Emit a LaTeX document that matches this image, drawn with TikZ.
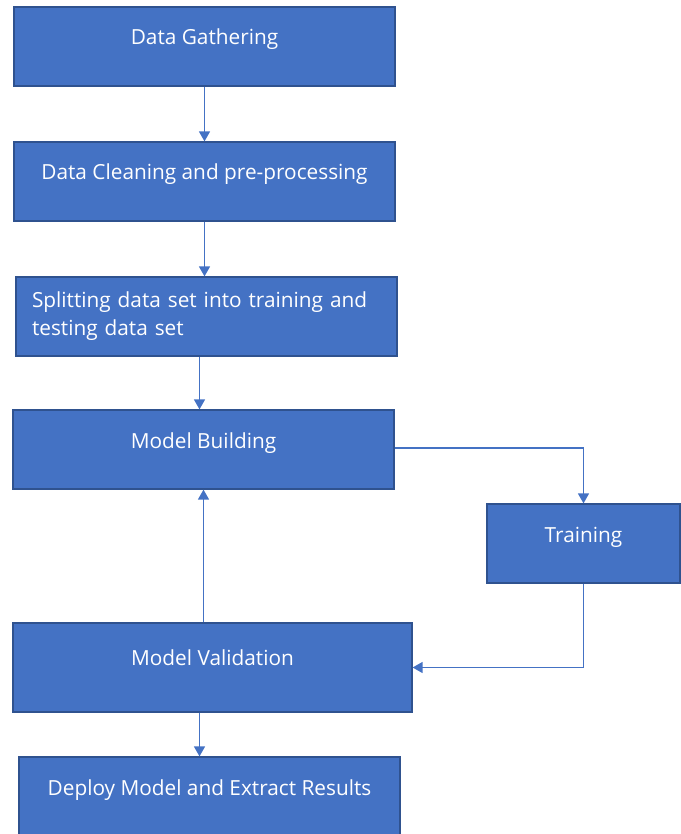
\documentclass[tikz,border=0pt]{standalone}
\usepackage{fontspec}
\setmainfont{Open Sans}
\usetikzlibrary{arrows.meta}
\definecolor{boxfill}{HTML}{4472C4}
\definecolor{boxline}{HTML}{2F528F}
\definecolor{flowline}{HTML}{4472C4}
\begin{document}
\begin{tikzpicture}[x=1pt,y=-1pt,
  every node/.style={font=\fontsize{20.8}{28}\selectfont},
  stepbox/.style={draw=boxline,line width=1.2pt,fill=boxfill,text=white,
    minimum width=381pt,minimum height=79pt,inner sep=0pt,
    text height=15pt,text depth=18pt},
  flow/.style={draw=flowline,line width=1.3pt,-{Triangle[width=11pt,length=10pt]}}]
\useasboundingbox (0,0) rectangle (680,834);
\node[stepbox] (gather) at (204.5,46.5) {Data Gathering};
\node[stepbox] (clean) at (204.5,181.5) {Data Cleaning and pre-processing};
\node[stepbox,align=left,text width=349pt,text height=21pt,text depth=40pt] (split) at (206.5,316.5) {Splitting data set into training and\\testing data set};
\node[stepbox] (build) at (203.5,449.5) {Model Building};
\node[stepbox,minimum width=193pt] (train) at (583.5,543.5) {Training};
\node[stepbox,minimum width=399pt,minimum height=89pt,text depth=20pt] (valid) at (212.5,667.5) {Model Validation};
\node[stepbox] (deploy) at (209.5,796.5) {Deploy Model and Extract Results};
\draw[flow] (gather.south) -- (clean.north);
\draw[flow] (clean.south) -- (clean.south |- split.north);
\draw[flow] ([xshift=-7pt]split.south) -- ([xshift=-7pt]split.south |- build.north);
\draw[flow] ([yshift=1.5pt]build.east) -| (train.north);
\draw[flow] (train.south) |- (valid.east);
\draw[flow] (build.south |- valid.north) -- (build.south);
\draw[flow] ([xshift=-10pt]deploy.north |- valid.south) -- ([xshift=-10pt]deploy.north);
\end{tikzpicture}
\end{document}
